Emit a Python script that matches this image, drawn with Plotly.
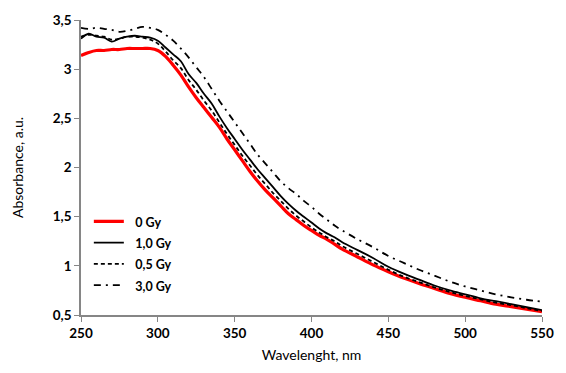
import plotly.graph_objects as go

wavelength = [250, 255, 260, 265, 270, 275, 280, 285, 290, 295, 300, 305, 310, 315, 320, 325,
              330, 335, 340, 345, 350, 355, 360, 365, 370, 375, 380, 385, 390, 395, 400, 405,
              410, 415, 420, 430, 440, 450, 460, 470, 480, 490, 500, 510, 520, 530, 540, 550]

gy_0 = [3.14, 3.17, 3.19, 3.19, 3.20, 3.20, 3.21, 3.21, 3.21, 3.21, 3.19, 3.13, 3.04, 2.94, 2.82, 2.71,
        2.61, 2.51, 2.41, 2.29, 2.18, 2.07, 1.96, 1.86, 1.77, 1.69, 1.61, 1.53, 1.47, 1.41, 1.36, 1.31,
        1.27, 1.22, 1.17, 1.09, 1.01, 0.94, 0.875, 0.82, 0.77, 0.72, 0.68, 0.645, 0.61, 0.585, 0.56, 0.535]

gy_10 = [3.31, 3.36, 3.33, 3.32, 3.28, 3.31, 3.33, 3.34, 3.33, 3.32, 3.29, 3.22, 3.15, 3.08, 2.95, 2.86,
         2.75, 2.65, 2.52, 2.40, 2.29, 2.18, 2.08, 1.98, 1.89, 1.80, 1.71, 1.63, 1.56, 1.50, 1.44, 1.38,
         1.33, 1.29, 1.24, 1.16, 1.08, 0.99, 0.92, 0.86, 0.80, 0.75, 0.71, 0.67, 0.64, 0.61, 0.58, 0.55]

gy_05 = [3.33, 3.35, 3.34, 3.33, 3.30, 3.31, 3.33, 3.33, 3.32, 3.30, 3.26, 3.18, 3.09, 3.01, 2.89, 2.79,
         2.68, 2.58, 2.46, 2.34, 2.23, 2.12, 2.02, 1.92, 1.83, 1.74, 1.66, 1.58, 1.51, 1.45, 1.39, 1.34,
         1.29, 1.25, 1.20, 1.12, 1.04, 0.96, 0.89, 0.835, 0.78, 0.735, 0.695, 0.66, 0.625, 0.60, 0.57, 0.54]

gy_30 = [3.42, 3.41, 3.42, 3.41, 3.40, 3.38, 3.39, 3.41, 3.43, 3.42, 3.40, 3.35, 3.29, 3.21, 3.12, 3.02,
         2.92, 2.80, 2.68, 2.57, 2.46, 2.35, 2.24, 2.13, 2.04, 1.95, 1.86, 1.79, 1.73, 1.66, 1.60, 1.53,
         1.47, 1.41, 1.36, 1.27, 1.19, 1.10, 1.03, 0.96, 0.90, 0.84, 0.79, 0.75, 0.71, 0.68, 0.655, 0.635]

series_names = ["0 Gy", "1,0 Gy", "0,5 Gy", "3,0 Gy"]
x_ticks = [250, 300, 350, 400, 450, 500, 550]
y_ticks = [0.5, 1, 1.5, 2, 2.5, 3, 3.5]
y_ticktext = ["0,5", "1", "1,5", "2", "2,5", "3", "3,5"]

styles = [
    dict(color="#ff0000", width=3.2, dash="solid"),
    dict(color="#000000", width=1.8, dash="solid"),
    dict(color="#000000", width=1.8, dash="4px,3px"),
    dict(color="#000000", width=1.8, dash="7px,5px,2px,5px"),
]

fig = go.Figure()
for name, ys, st in zip(series_names, [gy_0, gy_10, gy_05, gy_30], styles):
    fig.add_trace(go.Scatter(
        x=wavelength, y=ys, mode="lines", line_shape="spline",
        name='<span style="font-size:12.5px">&nbsp;&nbsp;<b>%s</b></span>' % name,
        line=st,
    ))

font_family = "Lato, 'Open Sans', sans-serif"
fig.update_layout(
    width=566, height=373,
    margin=dict(l=81, r=13, t=13, b=55),
    paper_bgcolor="white", plot_bgcolor="white",
    font=dict(family=font_family, color="#000000"),
    showlegend=True,
    legend=dict(x=0.017, y=0.37, xanchor="left", yanchor="top",
                font=dict(size=14, family=font_family), bgcolor="rgba(0,0,0,0)",
                itemwidth=30),
    xaxis=dict(range=[250, 550], tickvals=x_ticks, ticktext=[str(v) for v in x_ticks],
               showgrid=False, zeroline=False, showline=True, linecolor="#868686", linewidth=1.5,
               ticks="outside", ticklen=5, tickcolor="#868686",
               tickfont=dict(size=13.5, family=font_family, weight="bold"),
               title=dict(text="Wavelenght, nm", font=dict(size=14, family=font_family), standoff=10)),
    yaxis=dict(range=[0.5, 3.5], tickvals=y_ticks, ticktext=y_ticktext,
               showgrid=False, zeroline=False, showline=True, linecolor="#868686", linewidth=1.5,
               ticks="outside", ticklen=5, tickcolor="#868686",
               tickfont=dict(size=13.5, family=font_family, weight="bold"),
               title=dict(text="Absorbance, a.u.", font=dict(size=14, family=font_family), standoff=26)),
)

fig.write_html("out.html")
